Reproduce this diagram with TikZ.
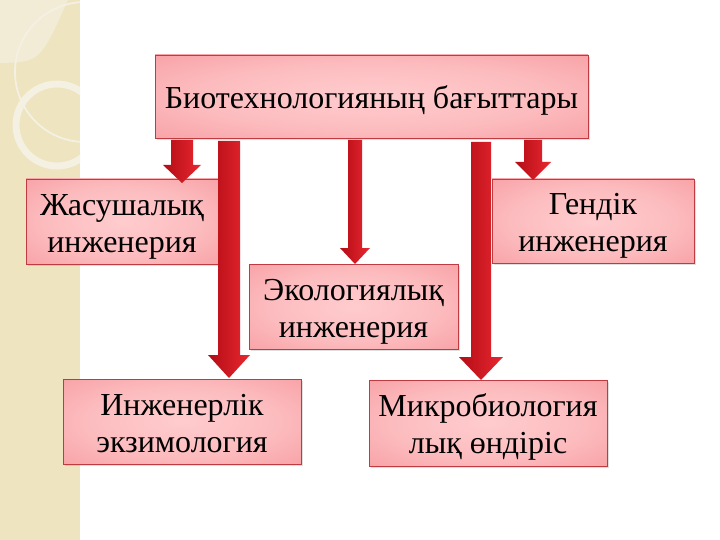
\documentclass[tikz,border=0pt]{standalone}
\usepackage{fontspec}
\setmainfont{Liberation Serif}
\usetikzlibrary{shadows,calc}
\definecolor{beige}{RGB}{238,228,192}
\definecolor{ringcol}{RGB}{244,240,226}
\definecolor{boxin}{RGB}{255,204,206}
\definecolor{boxout}{RGB}{244,140,145}
\definecolor{boxedge}{RGB}{238,120,126}
\definecolor{boxline}{RGB}{190,60,65}
\definecolor{arrdark}{RGB}{180,12,22}
\definecolor{arrlight}{RGB}{232,40,48}
\pgfdeclareradialshading{boxshade}{\pgfpoint{0bp}{0bp}}{%
  color(0bp)=(boxin); color(20bp)=(boxin!75!boxout); color(50bp)=(boxout); color(75bp)=(boxedge)}
\tikzset{
  topic/.style={draw=boxline, line width=0.6pt, shading=boxshade,
    drop shadow={shadow xshift=2pt, shadow yshift=-2pt, opacity=0.25},
    font=\fontsize{32}{37}\selectfont, text=black},
  arrowfill/.style={left color=arrdark, right color=arrlight, draw=none},
}
\newcommand{\lbl}[1]{\raisebox{-5pt}[\height][\depth]{\begin{tabular}{@{}c@{}}#1\end{tabular}}}
\newcommand{\blkarrow}[6]{%
  \path[arrowfill] (#1-#4,#2) -- (#1+#4,#2) -- (#1+#4,#3-#6) -- (#1+#5,#3-#6) -- (#1,#3)
     -- (#1-#5,#3-#6) -- (#1-#4,#3-#6) -- cycle;}
\begin{document}
\begin{tikzpicture}[x=1pt,y=-1pt]
\useasboundingbox (0,0) rectangle (720,540);
\fill[white] (0,0) rectangle (720,540);
% left decorative strip
\fill[beige] (0,0) rectangle (80,540);
\begin{scope}
  \clip (0,0) rectangle (80,540);
  \fill[ringcol, opacity=0.7] (0,0) -- (0,63) .. controls (40,62) .. (68,0) -- cycle;
  \draw[ringcol, line width=1.8pt] (85,72) circle[radius=70];
  \draw[ringcol, line width=7pt] (57,125) circle[radius=41];
\end{scope}
% boxes
\node[topic, minimum width=433pt, minimum height=83pt] (top) at (371.5,96.5) {\lbl{Биотехнологияның бағыттары}};
\node[topic, minimum width=192pt, minimum height=85pt] (zhas) at (122,221.5) {\lbl{Жасушалық\\инженерия}};
\node[topic, minimum width=202pt, minimum height=84pt] (gen) at (593,221) {\lbl{Гендік\\инженерия}};
\node[topic, minimum width=209pt, minimum height=85pt] (eco) at (353.5,306.5) {\lbl{Экологиялық\\инженерия}};
\node[topic, minimum width=238pt, minimum height=85pt] (inzh) at (182,421.5) {\lbl{Инженерлік\\экзимология}};
\node[topic, minimum width=238pt, minimum height=86pt] (mikro) at (488,423) {\lbl{Микробиология\\лық өндіріс}};
% block arrows: x, top y, tip y, half shaft, half head, head length
\blkarrow{182}{140}{183}{11}{19}{18}
\blkarrow{229}{141}{378}{11}{21}{23}
\blkarrow{355}{140}{264}{7}{15}{16}
\blkarrow{481}{142}{380}{10}{22}{23}
\blkarrow{533}{140}{180}{9}{18}{18}
\end{tikzpicture}
\end{document}
